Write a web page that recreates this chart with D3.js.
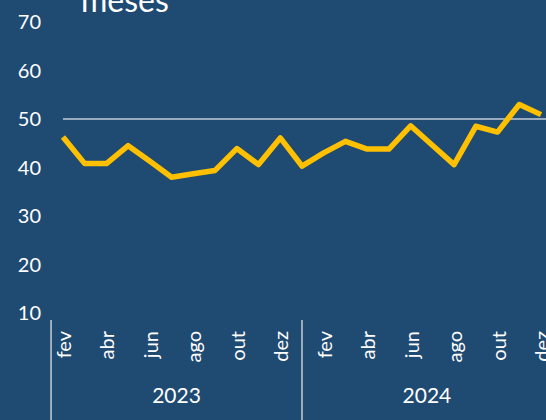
<!DOCTYPE html>
<html>
<head>
<meta charset="utf-8">
<script src="https://cdn.jsdelivr.net/npm/d3@7.9.0/dist/d3.min.js"></script>
<style>
  html, body { margin: 0; padding: 0; background: #1f4a72; }
  svg { display: block; font-family: Lato, 'Open Sans', sans-serif; }
</style>
</head>
<body>
<div id="chart"></div>
<script>
// months shown on the axis (fev 2023 .. dez 2024)
const months = ['fev', 'mar', 'abr', 'mai', 'jun', 'jul', 'ago', 'set', 'out', 'nov', 'dez',
                'jan', 'fev', 'mar', 'abr', 'mai', 'jun', 'jul', 'ago', 'set', 'out', 'nov', 'dez'];
const values = [46.3, 40.8, 40.8, 44.5, 41.3, 38.0, 38.7, 39.4, 43.9, 40.6, 46.1,
                40.3, 43.0, 45.4, 43.8, 43.8, 48.6, 44.6, 40.6, 48.5, 47.3, 53.0, 50.9];
const yTicks = [10, 20, 30, 40, 50, 60, 70];
const refValue = 50;
// year groups: start / end as month positions on the axis
const years = ['2023', '2024'];
const yearStart = [-0.55, 11];
const yearEnd = [11, 22.5];

const width = 546;
const height = 420;

const svg = d3.select('#chart')
    .append('svg')
    .attr('width', width)
    .attr('height', height);

svg.append('rect')
    .attr('width', width)
    .attr('height', height)
    .attr('fill', '#1f4a72');

const xScale = d3.scaleLinear().domain([0, months.length - 1]).range([63, 541]);
const yScale = d3.scaleLinear().domain([10, 70]).range([313, 22]);

// title (cut at top)
svg.append('text')
    .attr('x', 81)
    .attr('y', 12)
    .attr('fill', '#fff')
    .attr('font-size', 32)
    .text('meses');

// y axis labels
svg.append('g')
    .selectAll('text')
    .data(yTicks)
    .join('text')
    .attr('x', 41)
    .attr('y', (d) => yScale(d))
    .attr('dy', '0.36em')
    .attr('text-anchor', 'end')
    .attr('fill', '#fff')
    .attr('font-size', 20)
    .text((d) => d);

// reference line at 50
svg.append('line')
    .attr('x1', xScale(0))
    .attr('x2', width)
    .attr('y1', yScale(refValue))
    .attr('y2', yScale(refValue))
    .attr('stroke', '#c3cdd9')
    .attr('stroke-width', 1.5);

// the series
const line = d3.line()
    .x((d, i) => xScale(i))
    .y((d) => yScale(d));

svg.append('path')
    .datum(values)
    .attr('d', line)
    .attr('fill', 'none')
    .attr('stroke', '#ffc000')
    .attr('stroke-width', 5.5)
    .attr('stroke-linejoin', 'round');

// month labels, every second month
svg.append('g')
    .selectAll('text')
    .data(months.map((m, i) => ({ m, i })).filter((d) => d.i % 2 === 0))
    .join('text')
    .attr('transform', (d) => `translate(${xScale(d.i) + 8}, 331) rotate(-90)`)
    .attr('text-anchor', 'end')
    .attr('fill', '#fff')
    .attr('font-size', 20)
    .text((d) => d.m);

// year group separators and labels
svg.append('g')
    .selectAll('line')
    .data(yearStart)
    .join('line')
    .attr('x1', (d) => xScale(d))
    .attr('x2', (d) => xScale(d))
    .attr('y1', 320)
    .attr('y2', height)
    .attr('stroke', '#c8ccd2')
    .attr('stroke-width', 1.5);

svg.append('g')
    .selectAll('text')
    .data(years)
    .join('text')
    .attr('x', (d, i) => (xScale(yearStart[i]) + xScale(yearEnd[i])) / 2)
    .attr('y', 403)
    .attr('text-anchor', 'middle')
    .attr('fill', '#fff')
    .attr('font-size', 21)
    .text((d) => d);
</script>
</body>
</html>
